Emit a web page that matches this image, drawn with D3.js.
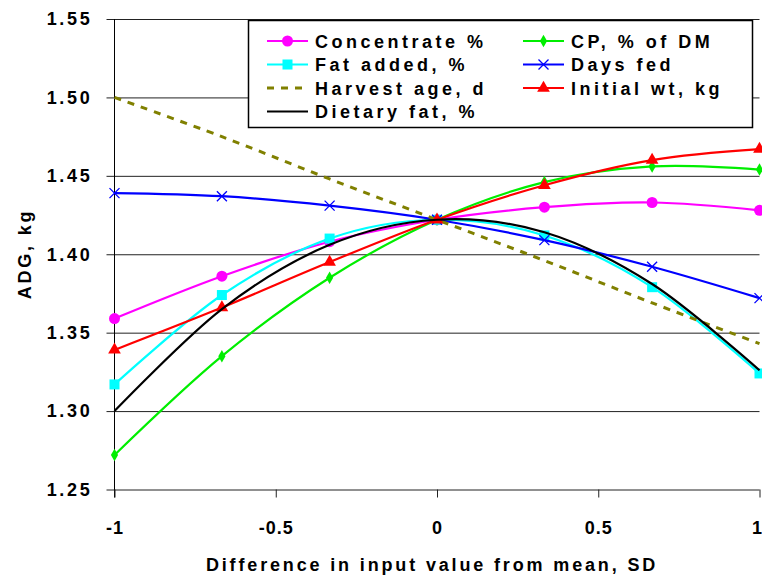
<!DOCTYPE html>
<html lang="en">
<head>
<meta charset="UTF-8">
<title>ADG response</title>
<script src="https://d3js.org/d3.v7.min.js"></script>
<style>
  body { margin: 0; background: #fff; }
  text { font-family: "Liberation Sans", Arial, sans-serif; font-weight: bold; fill: #000; }
</style>
</head>
<body>
<svg width="762" height="578"></svg>
<script>
// SD steps from the mean
const sdSteps = [-1, -0.667, -0.333, 0, 0.333, 0.667, 1];

// ADG, kg for each input
const concentrate = [1.359, 1.386, 1.408, 1.422, 1.430, 1.433, 1.428];
const cpDM        = [1.272, 1.335, 1.385, 1.422, 1.446, 1.456, 1.454];
const fatAdded    = [1.317, 1.374, 1.410, 1.422, 1.412, 1.379, 1.324];
const daysFed     = [1.439, 1.437, 1.431, 1.422, 1.409, 1.392, 1.372];
const harvestAge  = [1.500, 1.475, 1.448, 1.422, 1.396, 1.369, 1.343];
const initialWt   = [1.339, 1.366, 1.395, 1.422, 1.444, 1.460, 1.467];
const dietaryFat  = [1.300, 1.365, 1.406, 1.422, 1.414, 1.381, 1.326];

const seriesNames = ["Concentrate %", "CP, % of DM", "Fat added, %", "Days fed",
                     "Harvest age, d", "Initial wt, kg", "Dietary fat, %"];
const xTicks = [-1, -0.5, 0, 0.5, 1];
const yTicks = [1.25, 1.30, 1.35, 1.40, 1.45, 1.50, 1.55];

const series = [
  { name: seriesNames[0], values: concentrate, color: "#ff00ff", marker: "circle" },
  { name: seriesNames[1], values: cpDM,        color: "#00ee00", marker: "diamond" },
  { name: seriesNames[2], values: fatAdded,    color: "#00ffff", marker: "square" },
  { name: seriesNames[3], values: daysFed,     color: "#0000ff", marker: "x" },
  { name: seriesNames[4], values: harvestAge,  color: "#808000", marker: null, dash: "7,7", width: 3 },
  { name: seriesNames[5], values: initialWt,   color: "#ff0000", marker: "triangle" },
  { name: seriesNames[6], values: dietaryFat,  color: "#000000", marker: null }
];

const svg = d3.select("svg");
const m = { left: 114.5, right: 759.5, top: 19, bottom: 489.5 };

const x = d3.scaleLinear().domain([-1, 1]).range([m.left, m.right]);
const y = d3.scaleLinear().domain([1.25, 1.55]).range([m.bottom, m.top]);

// horizontal grid + y ticks
const yAxis = svg.append("g").attr("transform", `translate(${m.left},0)`)
  .call(d3.axisLeft(y).tickValues(yTicks).tickFormat(d3.format(".2f"))
    .tickSize(-(m.right - m.left)).tickPadding(22));
yAxis.select(".domain").remove();
yAxis.selectAll(".tick line").attr("stroke", "#222").attr("x1", -8);
yAxis.selectAll(".tick text").attr("font-size", 18).attr("letter-spacing", 2.7)
  .attr("font-family", "Liberation Sans, Arial, sans-serif");

// y axis line
svg.append("line").attr("x1", m.left).attr("x2", m.left).attr("y1", m.top).attr("y2", m.bottom + 8)
  .attr("stroke", "#000");

// x ticks (plain hyphen minus like the original)
const xAxis = svg.append("g").attr("transform", `translate(0,${m.bottom})`)
  .call(d3.axisBottom(x).tickValues(xTicks).tickFormat(d => String(d)).tickSize(8).tickPadding(24));
xAxis.select(".domain").remove();
xAxis.selectAll(".tick line").attr("stroke", "#222");
xAxis.selectAll(".tick text").attr("font-size", 18).attr("letter-spacing", 1)
  .attr("font-family", "Liberation Sans, Arial, sans-serif");
// last label sits against the right edge
xAxis.selectAll(".tick text").filter(d => d === 1).attr("text-anchor", "end").attr("x", 3);

// axis titles
svg.append("text").attr("x", 432).attr("y", 571).attr("text-anchor", "middle")
  .attr("font-size", 18).attr("letter-spacing", 2.85)
  .text("Difference in input value from mean, SD");
svg.append("text").attr("transform", "translate(31,254) rotate(-90)").attr("text-anchor", "middle")
  .attr("font-size", 18).attr("letter-spacing", 2.8).text("ADG, kg");

const line = d3.line().x((d, i) => x(sdSteps[i])).y(d => y(d))
  .curve(d3.curveCardinal.tension(0));

function drawMarker(g, type, color, cx, cy) {
  if (type === "circle") {
    g.append("circle").attr("cx", cx).attr("cy", cy).attr("r", 5.5).attr("fill", color);
  } else if (type === "square") {
    g.append("rect").attr("x", cx - 5).attr("y", cy - 5).attr("width", 10).attr("height", 10).attr("fill", color);
  } else if (type === "diamond") {
    g.append("path").attr("transform", `translate(${cx},${cy})`)
      .attr("d", d3.symbol(d3.symbolDiamond, 45)()).attr("fill", color);
  } else if (type === "triangle") {
    g.append("path").attr("transform", `translate(${cx},${cy})`)
      .attr("d", d3.symbol(d3.symbolTriangle, 70)()).attr("fill", color);
  } else if (type === "x") {
    g.append("path").attr("d", `M${cx - 5},${cy - 5}L${cx + 5},${cy + 5}M${cx - 5},${cy + 5}L${cx + 5},${cy - 5}`)
      .attr("stroke", color).attr("stroke-width", 1.3).attr("fill", "none");
  }
}

const plot = svg.append("g");
series.forEach(s => {
  const g = plot.append("g");
  g.append("path").attr("d", line(s.values)).attr("fill", "none")
    .attr("stroke", s.color).attr("stroke-width", s.width || 2.2)
    .attr("stroke-dasharray", s.dash || null);
  if (s.marker) s.values.forEach((v, i) => drawMarker(g, s.marker, s.color, x(sdSteps[i]), y(v)));
});

// legend
const legend = svg.append("g");
legend.append("rect").attr("x", 248.5).attr("y", 20.5).attr("width", 504).attr("height", 107)
  .attr("fill", "#fff").attr("stroke", "#000").attr("stroke-width", 1.5);
series.forEach((s, i) => {
  const col = i % 2, row = Math.floor(i / 2);
  const lx = col === 0 ? 267 : 523, ly = 41 + row * 23.5;
  const g = legend.append("g");
  g.append("line").attr("x1", lx).attr("x2", lx + 41).attr("y1", ly).attr("y2", ly)
    .attr("stroke", s.color).attr("stroke-width", s.width || 2.2)
    .attr("stroke-dasharray", s.dash || null);
  if (s.marker) drawMarker(g, s.marker, s.color, lx + 20.5, ly);
  g.append("text").attr("x", lx + 48).attr("y", ly + 6.5).attr("font-size", 18)
    .attr("letter-spacing", 3.5).text(s.name);
});
</script>
</body>
</html>
